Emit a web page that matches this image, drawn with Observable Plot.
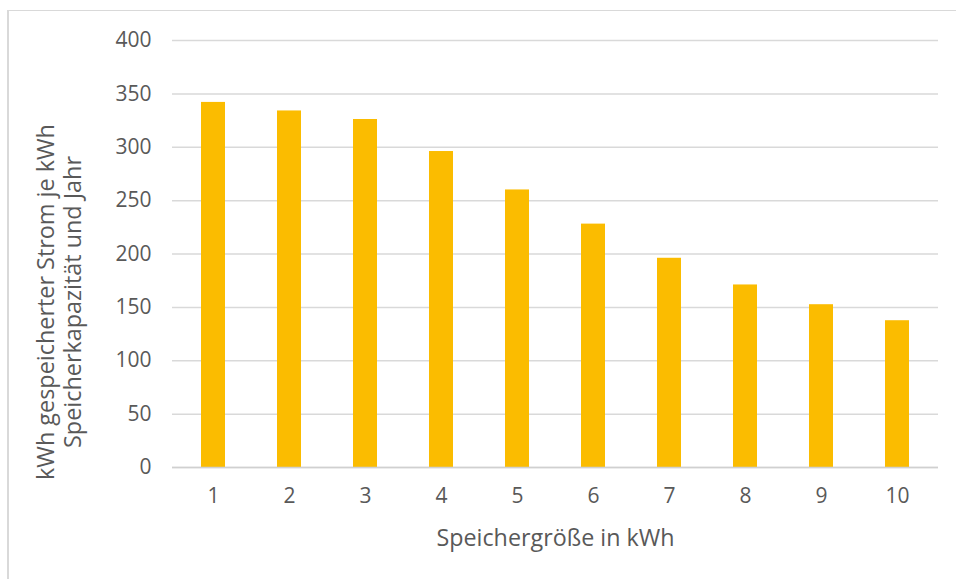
<!DOCTYPE html>
<html>
<head>
<meta charset="utf-8">
<script src="https://cdn.jsdelivr.net/npm/d3@7"></script>
<script src="https://cdn.jsdelivr.net/npm/@observablehq/plot@0.6"></script>
<style>
  html, body { margin: 0; padding: 0; background: #fff; overflow: hidden; }
  #wrap { position: relative; width: 956px; height: 579px; }
  #frame { position: absolute; left: 7px; top: 10px; width: 960px; height: 580px;
           border-top: 1px solid #d9d9d9; border-left: 2px solid #d9d9d9; box-sizing: border-box; }
  #chart { position: absolute; left: 0; top: 0; }
</style>
</head>
<body>
<div id="wrap"><div id="frame"></div><div id="chart"></div></div>
<script>
const sizes = ["1", "2", "3", "4", "5", "6", "7", "8", "9", "10"];
const values = [342, 334, 326, 296, 260, 228, 196, 171, 152.5, 137.5];
const yTicks = [0, 50, 100, 150, 200, 250, 300, 350, 400];
const xTitle = "Speichergröße in kWh";
const yTitle = "kWh gespeicherter Strom je kWh\nSpeicherkapazität und Jahr";

const data = sizes.map((s, i) => ({size: s, value: values[i]}));
const font = "'Open Sans', sans-serif";
const textColor = "#595959";

const chart = Plot.plot({
  width: 956,
  height: 579,
  marginLeft: 172,
  marginRight: 18,
  marginTop: 40,
  marginBottom: 112,
  style: {fontFamily: font, color: textColor, background: "transparent"},
  x: {domain: sizes, paddingInner: 0.69, paddingOuter: 0.345, label: null},
  y: {domain: [0, 400], label: null},
  marks: [
    Plot.gridY(yTicks, {stroke: "#d9d9d9", strokeOpacity: 1, strokeWidth: 1.5}),
    Plot.barY(data, {x: "size", y: "value", fill: "#FBBC00"}),
    Plot.ruleY([0], {stroke: "#d0d0d0", strokeWidth: 1.5}),
    Plot.axisY(yTicks, {tickSize: 0, tickPadding: 21, fontSize: 21, fill: textColor, label: null}),
    Plot.axisX({tickSize: 0, tickPadding: 21, fontSize: 21, fill: textColor, label: null}),
    Plot.text([xTitle], {frameAnchor: "bottom", dy: 71, fontSize: 23.3, fill: textColor, lineAnchor: "middle"}),
    Plot.text([yTitle], {frameAnchor: "left", dx: -113.5, dy: 48, rotate: -90, fontSize: 23.4, fill: textColor,
                         lineAnchor: "middle", textAnchor: "middle", lineHeight: 1.15})
  ]
});
document.getElementById("chart").appendChild(chart);
</script>
</body>
</html>
